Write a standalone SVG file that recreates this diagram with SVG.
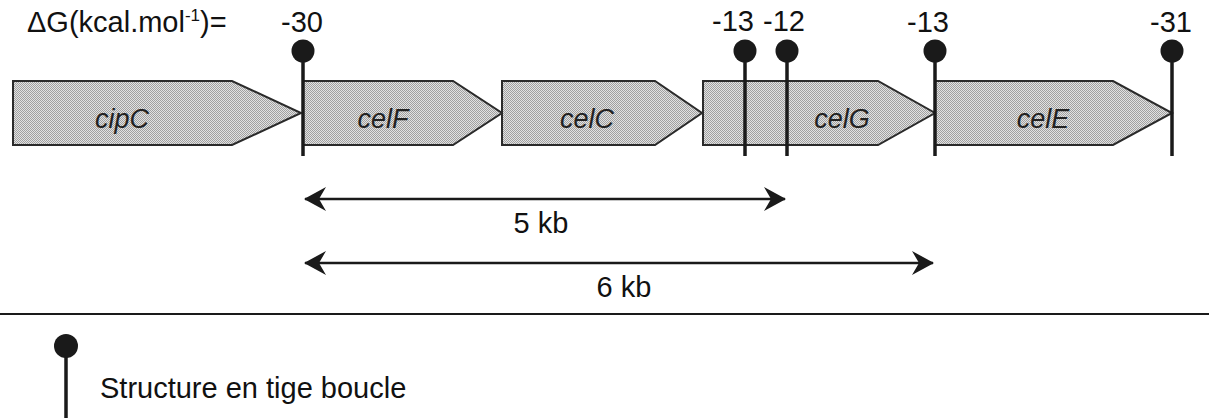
<svg xmlns="http://www.w3.org/2000/svg" width="1209" height="418" viewBox="0 0 1209 418">
  <defs>
    <pattern id="dots" width="2" height="2" patternUnits="userSpaceOnUse">
      <rect width="2" height="2" fill="#e2e2e2"/>
      <rect x="0" y="0" width="1" height="1" fill="#a0a0a0"/>
      <rect x="1" y="1" width="1" height="1" fill="#a0a0a0"/>
    </pattern>
    <marker id="head" viewBox="0 0 22 24" refX="21" refY="12" markerWidth="22" markerHeight="24" markerUnits="userSpaceOnUse" orient="auto-start-reverse">
      <path d="M0,0 L22,12 L0,24 L7,12 Z" fill="#1a1a1a"/>
    </marker>
    <style>
      .gene { fill: url(#dots); stroke: #2a2a2a; stroke-width: 2; stroke-linejoin: miter; }
      .glabel { font-family: "Liberation Sans", Arial, sans-serif; font-style: italic; font-size: 27px; fill: #222; text-anchor: middle; }
      .num { font-family: "Liberation Sans", Arial, sans-serif; font-size: 29px; fill: #111; text-anchor: middle; }
      .txt { font-family: "Liberation Sans", Arial, sans-serif; font-size: 29px; fill: #111; }
      .stem { stroke: #1a1a1a; stroke-width: 3.5; }
      .knob { fill: #1a1a1a; }
      .dim { stroke: #1a1a1a; stroke-width: 2.5; fill: none; marker-start: url(#head); marker-end: url(#head); }
    </style>
  </defs>
  <rect width="1209" height="418" fill="#ffffff"/>

  <text class="txt" x="27" y="32">ΔG(kcal.mol<tspan font-size="17" dy="-11">-1</tspan><tspan dy="11">)=</tspan></text>

  <g id="gene-cipC">
    <path class="gene" d="M13,81 H232 L301,113 L232,145 H13 Z"/>
    <text class="glabel" x="122" y="128">cipC</text>
  </g>
  <g id="gene-celF">
    <path class="gene" d="M303,81 H453 L502,113 L453,145 H303 Z"/>
    <text class="glabel" x="383" y="128">celF</text>
  </g>
  <g id="gene-celC">
    <path class="gene" d="M502,81 H655 L702,113 L655,145 H502 Z"/>
    <text class="glabel" x="587" y="128">celC</text>
  </g>
  <g id="gene-celG">
    <path class="gene" d="M703,81 H878 L935,113 L878,145 H703 Z"/>
    <text class="glabel" x="842" y="128">celG</text>
  </g>
  <g id="gene-celE">
    <path class="gene" d="M935,81 H1113 L1172,113 L1113,145 H935 Z"/>
    <text class="glabel" x="1043" y="128">celE</text>
  </g>

  <g id="term-1">
    <line class="stem" x1="303" y1="51" x2="303" y2="156"/>
    <circle class="knob" cx="303" cy="51" r="11.5"/>
    <text class="num" x="302" y="32">-30</text>
  </g>
  <g id="term-2">
    <line class="stem" x1="745" y1="51" x2="745" y2="156"/>
    <circle class="knob" cx="745" cy="51" r="11.5"/>
    <text class="num" x="733" y="31">-13</text>
  </g>
  <g id="term-3">
    <line class="stem" x1="787" y1="51" x2="787" y2="156"/>
    <circle class="knob" cx="787" cy="51" r="11.5"/>
    <text class="num" x="784" y="31">-12</text>
  </g>
  <g id="term-4">
    <line class="stem" x1="935" y1="51" x2="935" y2="156"/>
    <circle class="knob" cx="935" cy="51" r="11.5"/>
    <text class="num" x="928" y="32">-13</text>
  </g>
  <g id="term-5">
    <line class="stem" x1="1172" y1="51" x2="1172" y2="156"/>
    <circle class="knob" cx="1172" cy="51" r="11.5"/>
    <text class="num" x="1171" y="32">-31</text>
  </g>

  <g id="connectors">
    <line class="dim" x1="305" y1="199" x2="785" y2="199"/>
    <line class="dim" x1="305" y1="263" x2="933" y2="263"/>
  </g>
  <text class="num" x="541" y="233">5 kb</text>
  <text class="num" x="624" y="297">6 kb</text>

  <line x1="0" y1="314" x2="1209" y2="314" stroke="#1a1a1a" stroke-width="2.2"/>

  <g id="legend">
    <line class="stem" x1="66" y1="346" x2="66" y2="418"/>
    <circle class="knob" cx="66" cy="346" r="12"/>
    <text class="txt" x="100" y="398">Structure en tige boucle</text>
  </g>
</svg>
